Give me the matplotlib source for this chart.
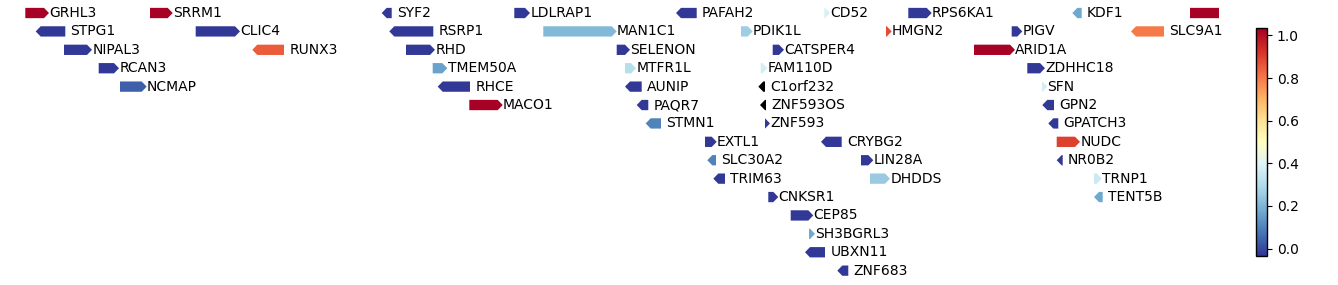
import numpy as np
import matplotlib
matplotlib.use('Agg')
import matplotlib.pyplot as plt
from matplotlib.patches import Polygon
from matplotlib.colors import Normalize
from matplotlib.cm import ScalarMappable

# gene track: name, start, end (track units), strand, row, score
names = ['GRHL3', 'SRRM1', 'SYF2', 'LDLRAP1', 'PAFAH2', 'CD52', 'RPS6KA1', 'KDF1', '',
         'STPG1', 'CLIC4', 'RSRP1', 'MAN1C1', 'PDIK1L', 'HMGN2', 'PIGV', 'SLC9A1',
         'NIPAL3', 'RUNX3', 'RHD', 'SELENON', 'CATSPER4', 'ARID1A',
         'RCAN3', 'TMEM50A', 'MTFR1L', 'FAM110D', 'ZDHHC18',
         'NCMAP', 'RHCE', 'AUNIP', 'C1orf232', 'SFN',
         'MACO1', 'PAQR7', 'ZNF593OS', 'GPN2',
         'STMN1', 'ZNF593', 'GPATCH3',
         'EXTL1', 'CRYBG2', 'NUDC',
         'SLC30A2', 'LIN28A', 'NR0B2',
         'TRIM63', 'DHDDS', 'TRNP1',
         'CNKSR1', 'TENT5B',
         'CEP85', 'SH3BGRL3', 'UBXN11', 'ZNF683']
starts = [25.3, 150, 381.7, 514.3, 676, 824.3, 908.3, 1072.3, 1190,
          35.7, 195.7, 389.3, 543.3, 741, 886, 1011.7, 1131,
          64, 252.3, 406, 616.7, 772.7, 974,
          98.7, 432.7, 625, 760.7, 1027.3,
          120, 437.7, 625, 758.3, 1042,
          469.3, 636.7, 760, 1042.3,
          645.7, 765, 1048.3,
          705, 821, 1056.7,
          707.3, 861, 1056.7,
          713.3, 870, 1094,
          768.3, 1094,
          790.7, 809, 805, 837.3]
ends = [49, 172.7, 391.7, 530, 696.7, 830, 931.7, 1081.7, 1240,
        65.3, 240, 433.3, 616.7, 752.7, 891.7, 1022.3, 1164,
        92, 284, 435, 630, 784, 1015,
        119, 447.3, 636, 767.3, 1045,
        146.7, 470, 641.7, 765, 1047.3,
        502.7, 648.3, 766, 1054,
        661, 770, 1058.3,
        716.7, 841.7, 1080,
        716, 873.3, 1062.7,
        725, 890, 1101.7,
        778.3, 1102.7,
        813.3, 815, 825, 848.3]
strands = ['+', '+', '-', '+', '-', '+', '+', '-', '+',
           '-', '+', '-', '+', '+', '+', '+', '-',
           '+', '-', '+', '+', '+', '+',
           '+', '+', '+', '+', '+',
           '+', '-', '-', '-', '+',
           '+', '-', '-', '-',
           '-', '+', '-',
           '+', '-', '+',
           '-', '+', '-',
           '-', '+', '+',
           '+', '-',
           '+', '+', '-', '-']
rows = [0, 0, 0, 0, 0, 0, 0, 0, 0,
        1, 1, 1, 1, 1, 1, 1, 1,
        2, 2, 2, 2, 2, 2,
        3, 3, 3, 3, 3,
        4, 4, 4, 4, 4,
        5, 5, 5, 5,
        6, 6, 6,
        7, 7, 7,
        8, 8, 8,
        9, 9, 9,
        10, 10,
        11, 12, 13, 14]
scores = [1.03, 1.03, -0.03, -0.03, -0.03, 0.38, -0.03, 0.17, 1.03,
          -0.03, -0.03, -0.03, 0.21, 0.26, 0.88, -0.03, 0.8,
          -0.03, 0.85, -0.03, -0.03, -0.03, 1.03,
          -0.03, 0.16, 0.31, 0.37, -0.03,
          0.04, -0.03, -0.03, np.nan, 0.37,
          1.03, -0.03, np.nan, -0.03,
          0.1, -0.03, -0.03,
          -0.03, -0.03, 0.9,
          0.1, -0.03, -0.03,
          -0.03, 0.25, 0.35,
          -0.03, 0.17,
          -0.03, 0.17, -0.03, -0.03]

cmap = plt.get_cmap('RdYlBu_r').copy()
cmap.set_bad('black')
norm = Normalize(vmin=-0.035, vmax=1.035)

fig = plt.figure(figsize=(13.38, 2.85), dpi=100)
ax = fig.add_axes([0, 0, 1219 / 1338, 1])
xmax = 1219
ax.set_xlim(0, xmax)
ax.set_ylim(14.78, -0.707)
ax.axis('off')

height = 0.56
head = 5.0
for name, s, e, strand, r, v in zip(names, starts, ends, strands, rows, scores):
    hl = min(head, e - s)
    y0, y1 = r - height / 2, r + height / 2
    if strand == '+':
        pts = [(s, y0), (e - hl, y0), (e, r), (e - hl, y1), (s, y1)]
    else:
        pts = [(e, y0), (s + hl, y0), (s, r), (s + hl, y1), (e, y1)]
    ax.add_patch(Polygon(pts, closed=True, facecolor=cmap(norm(v)), edgecolor='none'))
    if e <= xmax and name:
        off = 0.2 if strand == '+' else 3.8
        ax.annotate(name, (e, r), xytext=(off, 0), textcoords='offset points',
                    ha='left', va='center', fontsize=10)

cax = fig.add_axes([1256 / 1338, 29 / 285, 11 / 1338, 228 / 285])
cb = fig.colorbar(ScalarMappable(norm=norm, cmap=cmap), cax=cax)
cb.set_ticks([0.0, 0.2, 0.4, 0.6, 0.8, 1.0])
cb.outline.set_linewidth(1.0)

fig.savefig('out.png', dpi=100)
